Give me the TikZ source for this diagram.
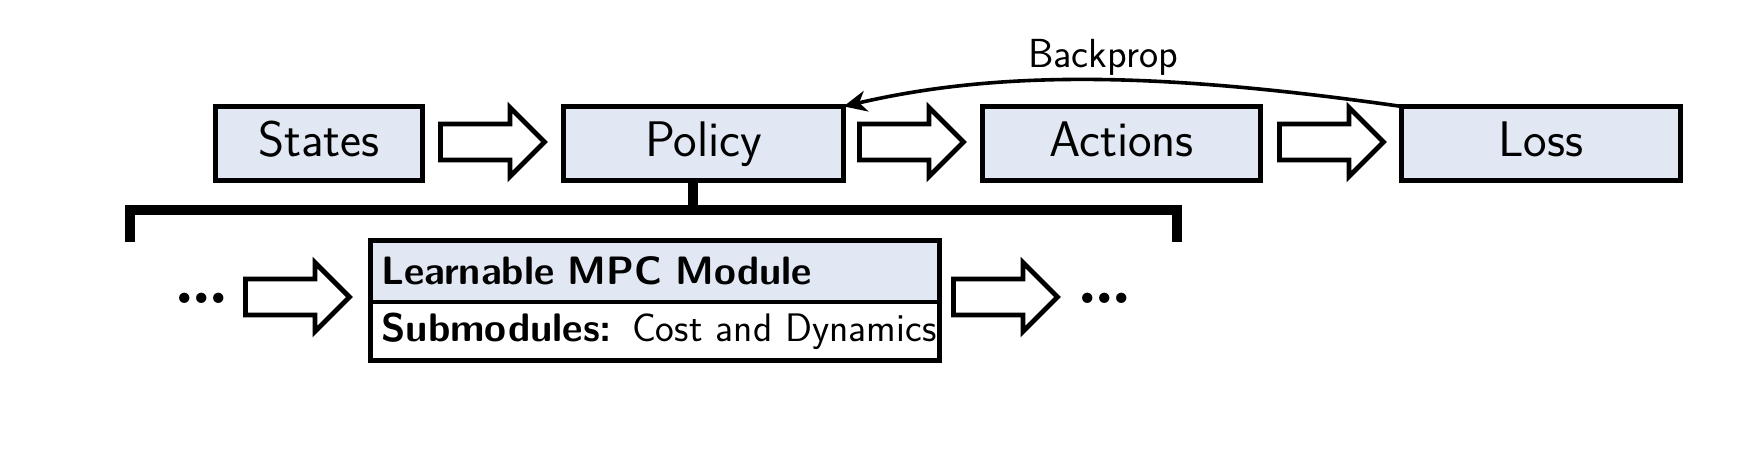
\documentclass[tikz,border=0pt]{standalone}
\usepackage{fontspec}
\usetikzlibrary{shapes.arrows,arrows.meta}
\definecolor{boxblue}{RGB}{225,232,243}
\renewcommand{\familydefault}{\sfdefault}
\begin{document}
\begin{tikzpicture}[x=0.5pt,y=-0.5pt,
  box/.style={draw, line width=2.4pt, fill=boxblue, outer sep=0pt, inner sep=0pt,
    font=\fontsize{25}{30}\selectfont, minimum height=37.1pt,
    text height=17.4pt, text depth=4.9pt},
  blockarrow/.style={single arrow, draw, line width=2.4pt, fill=white,
    inner xsep=0pt, inner ysep=7.8pt, outer sep=0pt, minimum height=52pt,
    single arrow head extend=8.25pt, single arrow head indent=0pt, anchor=tail},
  mpcrow/.style={draw, line width=2.4pt, outer sep=0pt, inner xsep=5.5pt, inner ysep=0pt,
    text width=273.6pt, align=left},
  dotsnode/.style={font=\fontsize{36}{40}\selectfont\rmfamily\bfseries, inner sep=0pt},
  bracket/.style={line width=5pt, line join=miter},
  backarrow/.style={line width=1.8pt, -{Stealth[length=11.5pt, width=10.5pt, inset=3.5pt]}}
]
\useasboundingbox (0,0) rectangle (1762,452);

% top row
\node[box, minimum width=103.6pt] (states) at (319,143.5) {States};
\node[box, minimum width=140.1pt] (policy) at (703.5,143.5) {Policy};
\node[box, minimum width=139.1pt] (actions) at (1121.5,143.5) {Actions};
\node[box, minimum width=139.6pt] (loss) at (1541,143.5) {Loss};

\node[blockarrow] (a1) at (440.4,142) {};
\node[blockarrow] (a2) at (859.4,142) {};
\node[blockarrow] (a3) at (1279.4,142) {};

% backprop
\draw[backarrow] (loss.north west) .. controls (1160,72) and (1000,70) .. (policy.north east);
\node[font=\fontsize{20.3}{24}\selectfont, inner sep=0pt] (bp) at (1103,57) {Backprop};

% bracket
\coordinate (bl) at (130,242);
\coordinate (tl) at (130,210);
\coordinate (tr) at (1177,210);
\coordinate (br) at (1177,242);
\draw[bracket] (bl) -- (tl) -- (tr) -- (br);
\draw[bracket] ([xshift=-5.25pt]policy.south) -- ([xshift=-5.25pt]policy.south |- tl);

% MPC module
\node[mpcrow, fill=boxblue, minimum height=30.8pt, font=\fontsize{19.8}{24}\selectfont] (mpc) at (655,271.1)
  {\mbox{\bfseries Learnable MPC Module}};
\node[mpcrow, fill=white, minimum height=29.3pt, anchor=north, font=\fontsize{19.9}{24}\selectfont] (sub) at (mpc.south)
  {\mbox{\textbf{Submodules:} Cost and Dynamics}};

\node[blockarrow] (a4) at (245.4,297) {};
\node[blockarrow] (a5) at (953.4,297) {};
\node[dotsnode] (ldots) at (201.5,298) {.\kern-2.75pt.\kern-2.75pt.};
\node[dotsnode] (rdots) at (1105,298) {.\kern-2.75pt.\kern-2.75pt.};
\end{tikzpicture}
\end{document}
